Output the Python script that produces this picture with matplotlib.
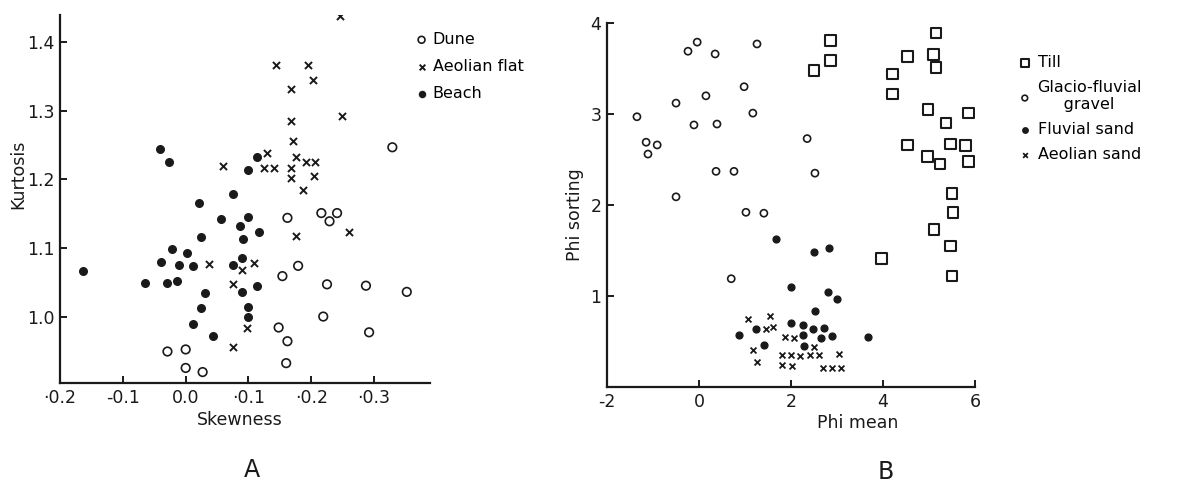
"""Two-panel scatter: kurtosis vs skewness (A) and phi sorting vs phi mean (B)."""

import matplotlib

matplotlib.use("Agg")
import matplotlib.pyplot as plt

INK = "#1a1a1a"

# Panel A -- skewness / kurtosis
beach_skew = [-0.041, -0.027, 0.113, 0.100, 0.076, 0.021, 0.057, 0.100, 0.086, 0.117,
              0.024, 0.092, -0.021, 0.002, -0.040, -0.010, 0.011, 0.076, 0.090, -0.163,
              -0.065, -0.029, -0.013, 0.030, 0.090, 0.114, 0.025, 0.100, 0.100, 0.011, 0.043]
beach_kurt = [1.244, 1.226, 1.233, 1.214, 1.179, 1.165, 1.143, 1.145, 1.132, 1.124,
              1.116, 1.113, 1.099, 1.093, 1.079, 1.075, 1.074, 1.075, 1.085, 1.067,
              1.049, 1.049, 1.052, 1.034, 1.036, 1.044, 1.012, 1.014, 1.000, 0.989, 0.971]

aeolian_skew = [0.246, 0.144, 0.194, 0.202, 0.168, 0.167, 0.249, 0.171, 0.129, 0.176,
                0.060, 0.124, 0.140, 0.168, 0.192, 0.206, 0.167, 0.205, 0.187, 0.260,
                0.175, 0.037, 0.108, 0.090, 0.075, 0.097, 0.075]
aeolian_kurt = [1.438, 1.367, 1.367, 1.345, 1.332, 1.285, 1.292, 1.256, 1.239, 1.233,
                1.220, 1.217, 1.217, 1.217, 1.226, 1.226, 1.202, 1.205, 1.184, 1.124,
                1.117, 1.077, 1.078, 1.068, 1.047, 0.984, 0.955]

dune_skew = [0.329, 0.162, 0.216, 0.241, 0.229, 0.179, 0.154, 0.225, 0.287, 0.352,
             0.219, 0.148, 0.292, 0.162, 0.160, 0.000, -0.029, 0.000, 0.027]
dune_kurt = [1.247, 1.144, 1.151, 1.151, 1.139, 1.074, 1.059, 1.047, 1.045, 1.036,
             1.000, 0.984, 0.977, 0.964, 0.932, 0.952, 0.949, 0.925, 0.919]

skew_ticks = [-0.2, -0.1, 0.0, 0.1, 0.2, 0.3]
skew_labels = ["·0.2", "-0.1", "0.0", "·0.1", "·0.2", "·0.3"]
kurt_ticks = [1.0, 1.1, 1.2, 1.3, 1.4]
kurt_labels = ["1.0", "1.1", "1.2", "1.3", "1.4"]

# Panel B -- phi mean / phi sorting
till_mean = [2.85, 2.85, 2.50, 5.15, 4.54, 5.09, 5.15, 4.20, 4.20, 4.98, 5.37, 5.85,
             4.54, 5.46, 5.80, 4.96, 5.24, 5.85, 5.50, 5.52, 5.11, 5.46, 3.96, 5.50]
till_sort = [3.81, 3.59, 3.48, 3.89, 3.63, 3.65, 3.51, 3.44, 3.22, 3.05, 2.90, 3.01,
             2.66, 2.67, 2.65, 2.53, 2.45, 2.48, 2.13, 1.92, 1.73, 1.55, 1.41, 1.22]

glacio_mean = [-1.35, -1.15, -0.91, -1.11, -0.50, -0.50, -0.24, -0.04, 0.35, 0.15, -0.11,
               0.39, 0.98, 1.17, 0.37, 0.76, 1.02, 1.41, 1.26, 2.35, 2.52, 0.70]
glacio_sort = [2.97, 2.69, 2.66, 2.56, 3.12, 2.09, 3.69, 3.79, 3.66, 3.20, 2.88,
               2.89, 3.30, 3.01, 2.37, 2.37, 1.92, 1.91, 3.77, 2.73, 2.35, 1.19]

fluvial_mean = [1.67, 2.50, 2.83, 2.00, 2.80, 3.00, 2.52, 2.00, 2.26, 2.48, 2.72, 1.24,
                0.87, 2.26, 2.65, 2.89, 1.41, 2.28, 3.67]
fluvial_sort = [1.63, 1.48, 1.53, 1.10, 1.04, 0.97, 0.84, 0.70, 0.68, 0.64, 0.65, 0.64,
                0.57, 0.57, 0.54, 0.56, 0.46, 0.45, 0.55]

asand_mean = [1.07, 1.54, 1.46, 1.61, 1.87, 2.07, 2.50, 1.17, 1.26, 1.80, 2.00, 2.20,
              2.41, 2.61, 3.04, 1.80, 2.02, 2.70, 2.89, 3.09]
asand_sort = [0.75, 0.78, 0.64, 0.66, 0.55, 0.54, 0.44, 0.41, 0.27, 0.35, 0.35, 0.34,
              0.35, 0.35, 0.36, 0.24, 0.23, 0.21, 0.21, 0.21]

mean_ticks = [-2, 0, 2, 4, 6]
sort_ticks = [1, 2, 3, 4]

plt.rcParams["font.family"] = ["DejaVu Sans"]
plt.rcParams["axes.unicode_minus"] = False

fig = plt.figure(figsize=(11.84, 4.92), dpi=100)
fig.patch.set_facecolor("white")


def style_axes(ax):
    for side in ("top", "right"):
        ax.spines[side].set_visible(False)
    for side in ("left", "bottom"):
        ax.spines[side].set_linewidth(1.6)
        ax.spines[side].set_color(INK)
    ax.tick_params(direction="in", length=5, width=1.4, colors=INK,
                   labelsize=12.5, pad=4)


# ---- Panel A
axA = fig.add_axes([0.0507, 0.2215, 0.3125, 0.748])
axA.scatter(dune_skew, dune_kurt, s=38, facecolors="none", edgecolors=INK,
            linewidths=1.2, label="Dune")
axA.scatter(aeolian_skew, aeolian_kurt, s=26, marker="x", color=INK,
            linewidths=1.4, label="Aeolian flat")
axA.scatter(beach_skew, beach_kurt, s=30, color=INK, label="Beach")
axA.set_xlim(-0.2, 0.389)
axA.set_ylim(0.903, 1.44)
axA.set_xticks(skew_ticks)
axA.set_xticklabels(skew_labels)
axA.set_yticks(kurt_ticks)
axA.set_yticklabels(kurt_labels)
style_axes(axA)
axA.legend(loc="upper left", bbox_to_anchor=(0.352, 0.935),
           bbox_transform=fig.transFigure, frameon=False, fontsize=11.5,
           handlelength=0.6, handletextpad=0.4, borderpad=0, labelspacing=0.75,
           borderaxespad=0, markerscale=0.8)

fig.text(0.0152, 0.645, "Kurtosis", rotation=90, ha="center", va="center",
         fontsize=12.5, color=INK)
fig.text(0.2027, 0.146, "Skewness", ha="center", va="center", fontsize=12.5,
         color=INK)
fig.text(0.2128, 0.045, "A", ha="center", va="center", fontsize=17, color=INK)

# ---- Panel B
axB = fig.add_axes([0.5127, 0.2134, 0.3108, 0.7398])
axB.scatter(till_mean, till_sort, s=60, marker="s", facecolors="none",
            edgecolors=INK, linewidths=1.5, label="Till")
axB.scatter(glacio_mean, glacio_sort, s=26, facecolors="none", edgecolors=INK,
            linewidths=1.2, label="Glacio-fluvial\n     gravel")
axB.scatter(fluvial_mean, fluvial_sort, s=24, color=INK, label="Fluvial sand")
axB.scatter(asand_mean, asand_sort, s=18, marker="x", color=INK, linewidths=1.3,
            label="Aeolian sand")
axB.set_xlim(-2, 6)
axB.set_ylim(0, 4)
axB.set_xticks(mean_ticks)
axB.set_yticks(sort_ticks)
style_axes(axB)
axB.legend(loc="upper left", bbox_to_anchor=(0.8615, 0.888),
           bbox_transform=fig.transFigure, frameon=False, fontsize=11.5,
           handlelength=0.6, handletextpad=0.5, borderpad=0, labelspacing=0.62,
           borderaxespad=0, markerscale=0.8)

fig.text(0.4856, 0.563, "Phi sorting", rotation=90, ha="center", va="center",
         fontsize=12.5, color=INK)
fig.text(0.7247, 0.140, "Phi mean", ha="center", va="center", fontsize=12.5,
         color=INK)
fig.text(0.7483, 0.041, "B", ha="center", va="center", fontsize=17, color=INK)

fig.savefig("out.png", dpi=100, facecolor="white")
